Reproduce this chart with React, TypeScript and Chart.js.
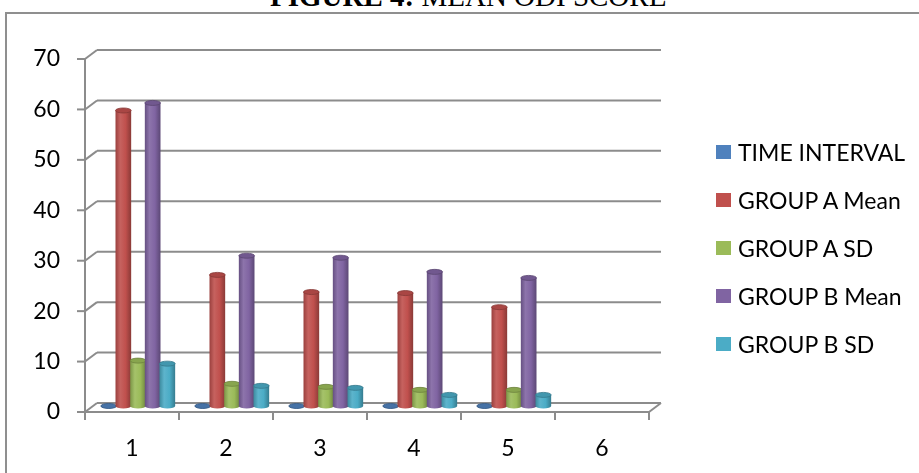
import React, { useEffect, useRef } from "react";
import { Chart, registerables } from "chart.js";

Chart.register(...registerables);

// ---- data ----
const categories = ["1", "2", "3", "4", "5", "6"];
const seriesNames = ["TIME INTERVAL", "GROUP A Mean", "GROUP A SD", "GROUP B Mean", "GROUP B SD"];
const timeInterval = [0, 0, 0, 0, 0, null];
const groupAMean = [58.6, 26.0, 22.6, 22.4, 19.6, null];
const groupASD = [9.0, 4.4, 3.8, 3.2, 3.2, null];
const groupBMean = [60.1, 29.8, 29.4, 26.6, 25.4, null];
const groupBSD = [8.4, 4.0, 3.6, 2.2, 2.2, null];
const yTicks = [0, 10, 20, 30, 40, 50, 60, 70];
const seriesColors = ["#4F81BD", "#C0504D", "#9BBB59", "#8064A2", "#4BACC6"];

const FONT = "Lato, 'Open Sans', sans-serif";
const FRONT_DX = -6;
const FRONT_DY = 6;
const BACK_DX = 6;
const BACK_DY = -3;

function shade(hex: string, amt: number): string {
  const n = parseInt(hex.slice(1), 16);
  let r = (n >> 16) & 255, g = (n >> 8) & 255, b = n & 255;
  const f = (c: number) =>
    Math.round(amt >= 0 ? c + (255 - c) * amt : c * (1 + amt));
  r = f(r); g = f(g); b = f(b);
  return `rgb(${r},${g},${b})`;
}

const threeD = {
  id: "threeD",
  beforeDatasetsDraw(chart: any) {
    const { ctx, chartArea: ca, scales } = chart;
    const x = scales.x, y = scales.y;
    const line = (x1: number, y1: number, x2: number, y2: number) => {
      ctx.beginPath();
      ctx.moveTo(x1, y1);
      ctx.lineTo(x2, y2);
      ctx.stroke();
    };
    ctx.save();
    ctx.strokeStyle = "#8c8c8c";
    ctx.lineWidth = 2;
    const fl = ca.left + FRONT_DX, fr = ca.right + FRONT_DX;
    const bl = ca.left + BACK_DX, br = ca.right + BACK_DX;
    for (const v of yTicks) {
      const p = y.getPixelForValue(v);
      line(bl, p + BACK_DY, br, p + BACK_DY);
      line(fl, p + FRONT_DY, bl, p + BACK_DY);
      line(fl - 8, p + FRONT_DY, fl, p + FRONT_DY);
    }
    const p0 = y.getPixelForValue(0);
    const pTop = y.getPixelForValue(yTicks[yTicks.length - 1]);
    line(fl, pTop + FRONT_DY, fl, p0 + FRONT_DY);
    line(fl, p0 + FRONT_DY, fr, p0 + FRONT_DY);
    line(fr, p0 + FRONT_DY, br, p0 + BACK_DY);
    const cw = x.getPixelForValue(1) - x.getPixelForValue(0);
    for (let i = 0; i <= categories.length; i++) {
      const xx = x.getPixelForValue(0) - cw / 2 + i * cw + FRONT_DX;
      line(xx, p0 + FRONT_DY, xx, p0 + FRONT_DY + 8);
    }
    ctx.restore();
  },
  afterDatasetsDraw(chart: any) {
    const { ctx } = chart;
    ctx.save();
    chart.data.datasets.forEach((ds: any, di: number) => {
      const meta = chart.getDatasetMeta(di);
      const c = seriesColors[di];
      meta.data.forEach((bar: any, i: number) => {
        if (ds.data[i] == null) return;
        const props = bar.getProps(["x", "y", "base", "width"], true);
        const bx = props.x, by = props.y, base = props.base;
        const width = props.width + 1;
        const l = bx - width / 2, r = bx + width / 2;
        const ry = 2.5;
        const grad = ctx.createLinearGradient(l, 0, r, 0);
        grad.addColorStop(0, shade(c, -0.2));
        grad.addColorStop(0.3, shade(c, 0.1));
        grad.addColorStop(0.65, c);
        grad.addColorStop(1, shade(c, -0.28));
        ctx.beginPath();
        ctx.moveTo(l, by);
        ctx.lineTo(l, base);
        ctx.ellipse(bx, base, width / 2, ry, 0, Math.PI, 0, true);
        ctx.lineTo(r, by);
        ctx.closePath();
        ctx.fillStyle = grad;
        ctx.fill();
        ctx.beginPath();
        ctx.ellipse(bx, by, width / 2, ry, 0, 0, Math.PI * 2);
        ctx.fillStyle = shade(c, -0.12);
        ctx.fill();
        ctx.lineWidth = 0.8;
        ctx.strokeStyle = shade(c, -0.3);
        ctx.stroke();
      });
    });
    ctx.restore();
  },
};

export default function App() {
  const ref = useRef<HTMLCanvasElement | null>(null);

  useEffect(() => {
    if (!ref.current) return;
    const seriesData = [timeInterval, groupAMean, groupASD, groupBMean, groupBSD];
    const chart = new Chart(ref.current, {
      type: "bar",
      data: {
        labels: categories,
        datasets: seriesNames.map((name, i) => ({
          label: name,
          data: seriesData[i] as any,
          backgroundColor: seriesColors[i],
          borderWidth: 0,
          categoryPercentage: 0.78,
          barPercentage: 1,
        })),
      },
      options: {
        responsive: false,
        animation: false,
        devicePixelRatio: 1,
        layout: { padding: { top: 53, right: 264, left: 0, bottom: 0 } },
        plugins: {
          legend: { display: false },
          title: { display: false },
          tooltip: { enabled: false },
        },
        scales: {
          x: {
            grid: { display: false, drawTicks: false },
            border: { display: false },
            ticks: {
              color: "#000",
              font: { family: FONT, size: 23 },
              padding: 29,
              labelOffset: FRONT_DX,
            },
            afterFit: (s: any) => {
              s.height = 67;
            },
          },
          y: {
            min: 0,
            max: 70,
            grid: { display: false, drawTicks: false },
            border: { display: false },
            ticks: {
              stepSize: 10,
              color: "#000",
              font: { family: FONT, size: 23 },
              padding: 31,
              labelOffset: FRONT_DY,
            },
            afterFit: (s: any) => {
              s.width = 91;
            },
          },
        },
      } as any,
      plugins: [threeD],
    });
    return () => chart.destroy();
  }, []);

  return (
    <div style={{ position: "absolute", left: 0, top: 0, width: 919, height: 473, overflow: "hidden", background: "#fff" }}>
      <div
        style={{
          position: "absolute",
          left: 270,
          top: -18,
          fontFamily: "'Liberation Serif', 'Times New Roman', serif",
          fontSize: 29,
          lineHeight: "29px",
          whiteSpace: "nowrap",
          color: "#000",
        }}
      >
        <b>FIGURE 4:</b> MEAN ODI SCORE
      </div>
      <div
        style={{
          position: "absolute",
          left: 5,
          top: 12,
          width: 940,
          height: 500,
          borderLeft: "2px solid #8f8f8f",
          borderTop: "2px solid #8f8f8f",
          boxSizing: "border-box",
        }}
      />
      <canvas ref={ref} width={919} height={473} style={{ position: "absolute", left: 0, top: 0 }} />
      {seriesNames.map((name, i) => (
        <div
          key={name}
          style={{
            position: "absolute",
            left: 716,
            top: 152 + 48 * i - 15,
            height: 30,
            display: "flex",
            alignItems: "center",
            whiteSpace: "nowrap",
          }}
        >
          <div style={{ width: 15, height: 14, background: seriesColors[i], marginRight: 7 }} />
          <span style={{ fontFamily: FONT, fontSize: 23, lineHeight: "30px", color: "#000" }}>{name}</span>
        </div>
      ))}
    </div>
  );
}
